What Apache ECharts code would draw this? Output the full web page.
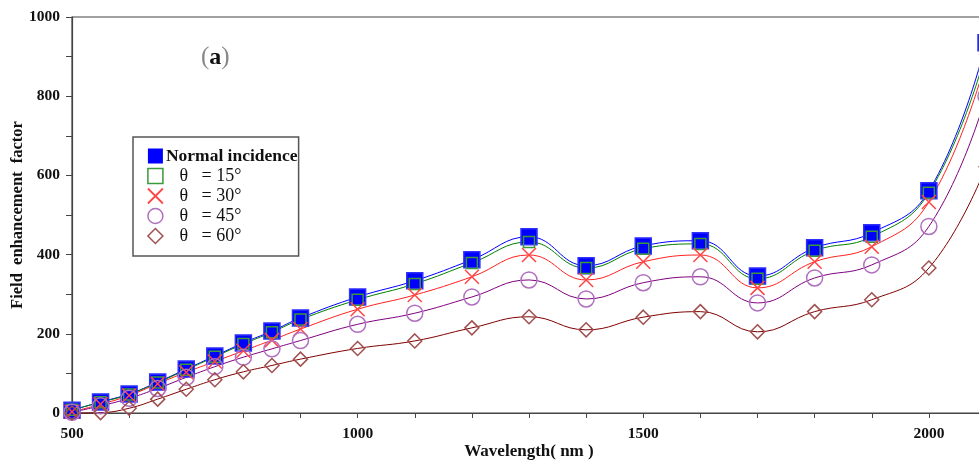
<!DOCTYPE html>
<html style="height: 100%">
<head>
<meta charset="utf-8">
<script src="https://cdn.jsdelivr.net/npm/echarts@6/dist/echarts.min.js"></script>
<title>Field enhancement factor</title>
</head>
<body style="height: 100%; margin: 0; background: #fff">
<div id="container" style="width: 979px; height: 463px"></div>
<script type="text/javascript">

let wavelength = [500, 550, 600, 650, 700, 750, 800, 850, 900, 1000, 1100, 1200, 1300, 1400, 1500, 1600, 1700, 1800, 1900, 2000, 2100];

let normal = [7, 28, 48, 78, 111, 144, 177, 207, 240, 293, 334, 387, 445, 372, 422, 435, 346, 417, 455, 561, 935];
let deg15  = [8, 27, 47, 77, 109, 142, 174, 204, 236, 286, 326, 379, 432, 366, 415, 427, 339, 410, 445, 556, 910];
let deg30  = [3, 22, 44, 74, 103, 130, 157, 184, 212, 262, 298, 344, 399, 336, 382, 399, 316, 382, 420, 533, 890];
let deg45  = [2, 18, 37, 62, 90, 117, 141, 162, 183, 224, 252, 293, 336, 288, 329, 344, 278, 341, 374, 471, 800];
let deg60  = [0, 1, 12, 35, 60, 84, 104, 120, 136, 163, 182, 215, 243, 210, 242, 256, 205, 256, 286, 366, 622];

let names = ['Normal incidence', 'θ = 15°', 'θ = 30°', 'θ = 45°', 'θ = 60°'];
let legendText = ['Normal incidence', '   θ   = 15°', '   θ   = 30°', '   θ   = 45°', '   θ   = 60°'];

const serif = '"Liberation Serif", "DejaVu Serif", serif';
const crossPath = 'path://M0,0L10,10M0,10L10,0';

function pts(arr) {
    return wavelength.map((w, i) => [w, arr[i]]);
}

function makeSeries(name, arr, lineColor, symbol, size, fill, border) {
    return {
        name: name,
        type: 'line',
        data: pts(arr),
        smooth: 0.45,
        symbol: symbol,
        symbolSize: size,
        showAllSymbol: true,
        clip: false,
        lineStyle: { color: lineColor, width: 1 },
        itemStyle: { color: fill, borderColor: border, borderWidth: 1.5 },
        emphasis: { disabled: true }
    };
}

let chart = echarts.init(document.getElementById('container'));
chart.setOption({
    animation: false,
    backgroundColor: '#fff',
    title: {
        text: '{p|(}{a|a}{p|)}',
        left: 196,
        top: 40,
        textStyle: {
            rich: {
                p: { fontFamily: serif, fontSize: 25, color: '#888', fontWeight: 'normal' },
                a: { fontFamily: serif, fontSize: 24, color: '#111', fontWeight: 'bold' }
            }
        }
    },
    legend: {
        orient: 'vertical',
        left: 133,
        top: 137,
        padding: [10, 1, 11, 14],
        itemWidth: 15,
        itemHeight: 15,
        itemGap: 2,
        borderColor: '#555',
        borderWidth: 1.5,
        backgroundColor: '#fff',
        formatter: function (n) { return legendText[names.indexOf(n)]; },
        textStyle: { fontFamily: serif, fontSize: 18, lineHeight: 18, color: '#111', padding: [0, 0, 0, -2] },
        data: [
            { name: names[0], icon: 'rect', itemStyle: { color: '#0000ff', borderWidth: 0 },
              textStyle: { fontWeight: 'bold', fontSize: 17.5 } },
            { name: names[1], icon: 'rect', itemStyle: { color: 'transparent', borderColor: '#3a9a3a', borderWidth: 1.5 } },
            { name: names[2], icon: crossPath, itemStyle: { color: 'transparent', borderColor: '#ff4545', borderWidth: 1.8 } },
            { name: names[3], icon: 'circle', itemStyle: { color: 'transparent', borderColor: '#b070c0', borderWidth: 1.5 } },
            { name: names[4], icon: 'diamond', itemStyle: { color: 'transparent', borderColor: '#a05050', borderWidth: 1.5 } }
        ]
    },
    grid: {
        left: 72,
        top: 17,
        width: 914,
        height: 396,
        outerBoundsMode: 'none',
        containLabel: false,
        show: true,
        borderColor: '#444',
        borderWidth: 1.2
    },
    xAxis: {
        type: 'value',
        min: 500,
        max: 2100,
        interval: 100,
        name: 'Wavelength( nm )',
        nameLocation: 'middle',
        nameGap: 30,
        nameMoveOverlap: false,
        nameTextStyle: { fontFamily: serif, fontSize: 17, fontWeight: 'bold', color: '#111' },
        axisLine: { lineStyle: { color: '#444', width: 1.2 } },
        axisTick: { inside: false, length: 5, lineStyle: { color: '#444' } },
        splitLine: { show: false },
        axisLabel: {
            margin: 13,
            fontFamily: serif, fontSize: 15.5, fontWeight: 'bold', color: '#111',
            formatter: v => (v % 500 === 0 ? String(v) : '')
        }
    },
    yAxis: {
        type: 'value',
        min: 0,
        max: 1000,
        interval: 100,
        name: 'Field  enhancement  factor',
        nameLocation: 'middle',
        nameGap: 46,
        nameMoveOverlap: false,
        nameRotate: 90,
        nameTextStyle: { fontFamily: serif, fontSize: 16.5, fontWeight: 'bold', color: '#111' },
        axisLine: { show: true, lineStyle: { color: '#444', width: 1.2 } },
        axisTick: { show: true, inside: false, length: 6, lineStyle: { color: '#444' } },
        splitLine: { show: false },
        axisLabel: {
            margin: 12,
            fontFamily: serif, fontSize: 15.5, fontWeight: 'bold', color: '#111',
            formatter: v => (v % 200 === 0 ? String(v) : '')
        }
    },
    series: [
        makeSeries(names[0], normal, '#0000ff', 'rect', 16, '#0000ff', '#3030ff'),
        makeSeries(names[1], deg15, '#008000', 'rect', 11, 'transparent', '#3a9a3a'),
        makeSeries(names[2], deg30, '#ff2020', crossPath, 14, 'transparent', '#ff4545'),
        makeSeries(names[3], deg45, '#800080', 'circle', 16, 'transparent', '#b070c0'),
        makeSeries(names[4], deg60, '#800000', 'diamond', 14, 'transparent', '#a05050')
    ]
});
</script>
</body>
</html>
